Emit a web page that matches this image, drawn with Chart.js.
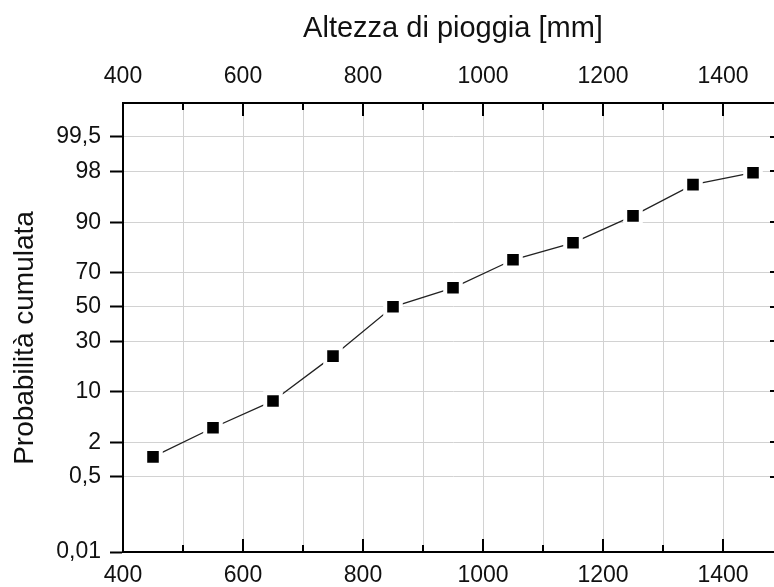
<!DOCTYPE html>
<html>
<head>
<meta charset="utf-8">
<script src="https://cdn.jsdelivr.net/npm/chart.js@4.4.1/dist/chart.umd.min.js"></script>
<style>
  html, body { margin: 0; padding: 0; background: #fff; overflow: hidden; }
  #wrap { position: absolute; left: 0; top: 0; width: 800px; height: 587px; }
</style>
</head>
<body>
<div id="wrap"><canvas id="c" width="800" height="587"></canvas></div>
<script>
  // dati
  var X_MM = [450, 550, 650, 750, 850, 950, 1050, 1150, 1250, 1350, 1450];
  var P_CUM = [1.14, 3.33, 7.67, 22.7, 50.0, 61.3, 76.2, 83.4, 91.6, 96.8, 97.9];
  var Y_TICKS = [0.01, 0.5, 2, 10, 30, 50, 70, 90, 98, 99.5];
  var Y_TICK_LABELS = ["0,01", "0,5", "2", "10", "30", "50", "70", "90", "98", "99,5"];
  var X_MIN = 400, X_MAX = 1500, X_STEP = 100;
  var P_MIN = 0.01, P_MAX = 99.9;

  var FONT = "'Liberation Sans', Arial, sans-serif";

  // inversa della normale standard (Acklam)
  function probit(p) {
    var a = [-3.969683028665376e+01, 2.209460984245205e+02, -2.759285104469687e+02, 1.383577518672690e+02, -3.066479806614716e+01, 2.506628277459239e+00];
    var b = [-5.447609879822406e+01, 1.615858368580409e+02, -1.556989798598866e+02, 6.680131188771972e+01, -1.328068155288572e+01];
    var c = [-7.784894002430293e-03, -3.223964580411365e-01, -2.400758277161838e+00, -2.549732539343734e+00, 4.374664141464968e+00, 2.938163982698783e+00];
    var d = [7.784695709041462e-03, 3.224671290700398e-01, 2.445134137142996e+00, 3.754408661907416e+00];
    var pl = 0.02425, q, r;
    if (p < pl) {
      q = Math.sqrt(-2 * Math.log(p));
      return (((((c[0]*q+c[1])*q+c[2])*q+c[3])*q+c[4])*q+c[5]) / ((((d[0]*q+d[1])*q+d[2])*q+d[3])*q+1);
    }
    if (p > 1 - pl) {
      q = Math.sqrt(-2 * Math.log(1 - p));
      return -(((((c[0]*q+c[1])*q+c[2])*q+c[3])*q+c[4])*q+c[5]) / ((((d[0]*q+d[1])*q+d[2])*q+d[3])*q+1);
    }
    q = p - 0.5; r = q * q;
    return (((((a[0]*r+a[1])*r+a[2])*r+a[3])*r+a[4])*r+a[5])*q / (((((b[0]*r+b[1])*r+b[2])*r+b[3])*r+b[4])*r+1);
  }
  function zOf(pct) { return probit(pct / 100); }

  function xLabel(v) { return v % 200 === 0 ? String(v) : ""; }

  // tacche interne (stile Origin) + titolo asse y
  var framePlugin = {
    id: "frame",
    afterDraw: function (chart) {
      var ctx = chart.ctx, a = chart.chartArea;
      var xs = chart.scales.x, ys = chart.scales.y;
      ctx.save();
      ctx.strokeStyle = "#000";
      ctx.lineWidth = 2;
      ctx.beginPath();
      xs.ticks.forEach(function (t) {
        var px = Math.round(xs.getPixelForValue(t.value));
        var len = t.value % 200 === 0 ? 13 : 7;
        ctx.moveTo(px, a.bottom); ctx.lineTo(px, a.bottom - len);
        ctx.moveTo(px, a.top); ctx.lineTo(px, a.top + len);
      });
      ys.ticks.forEach(function (t) {
        var py = Math.round(ys.getPixelForValue(t.value));
        ctx.moveTo(a.right, py); ctx.lineTo(a.right - 13, py);
      });
      ctx.stroke();
      ctx.beginPath();
      ctx.moveTo(a.right, a.top); ctx.lineTo(a.right, a.bottom);
      ctx.stroke();

      ctx.translate(33, 338);
      ctx.rotate(-Math.PI / 2);
      ctx.fillStyle = "#111";
      ctx.font = "28px " + FONT;
      ctx.textAlign = "center";
      ctx.textBaseline = "alphabetic";
      ctx.fillText("Probabilità cumulata", 0, 0);
      ctx.restore();
    }
  };

  new Chart(document.getElementById("c"), {
    type: "line",
    data: {
      datasets: [{
        data: X_MM.map(function (x, i) { return { x: x, y: zOf(P_CUM[i]) }; }),
        borderColor: "#222",
        borderWidth: 1.3,
        pointStyle: "rect",
        pointRadius: 11,
        pointBackgroundColor: "#000",
        pointBorderColor: "#fff",
        pointBorderWidth: 4,
        tension: 0,
        fill: false
      }]
    },
    options: {
      responsive: false,
      animation: false,
      events: [],
      layout: { padding: { left: 0, right: 17, top: 0, bottom: 0 } },
      plugins: { legend: { display: false }, tooltip: { enabled: false } },
      scales: {
        x: {
          type: "linear", position: "bottom", min: X_MIN, max: X_MAX,
          afterFit: function (s) { s.height = 35; },
          ticks: { stepSize: X_STEP, autoSkip: false, maxRotation: 0, padding: 10, color: "#111",
                   font: { family: FONT, size: 23 }, callback: xLabel },
          grid: { color: "#d2d2d2", lineWidth: 1, drawTicks: false },
          border: { display: true, color: "#000", width: 2 }
        },
        x2: {
          type: "linear", position: "top", min: X_MIN, max: X_MAX,
          afterFit: function (s) { s.height = 103; },
          ticks: { stepSize: X_STEP, autoSkip: false, maxRotation: 0, padding: 13, color: "#111",
                   font: { family: FONT, size: 23 }, callback: xLabel },
          grid: { display: false, drawTicks: false },
          border: { display: true, color: "#000", width: 2 },
          title: { display: true, text: "Altezza di pioggia [mm]", color: "#111",
                   font: { family: FONT, size: 29 }, padding: { top: 12, bottom: 0 } }
        },
        y: {
          type: "linear", position: "left", min: zOf(P_MIN), max: zOf(P_MAX),
          afterFit: function (s) { s.width = 123; },
          afterBuildTicks: function (s) {
            s.ticks = Y_TICKS.map(function (p) { return { value: zOf(p) }; });
          },
          ticks: { autoSkip: false, padding: 9, color: "#111", font: { family: FONT, size: 23 },
                   callback: function (v, i) { return Y_TICK_LABELS[i]; } },
          grid: { color: "#d2d2d2", lineWidth: 1, drawTicks: true, tickLength: 13, tickWidth: 2, tickColor: "#000" },
          border: { display: true, color: "#000", width: 2 }
        }
      }
    },
    plugins: [framePlugin]
  });
</script>
</body>
</html>
